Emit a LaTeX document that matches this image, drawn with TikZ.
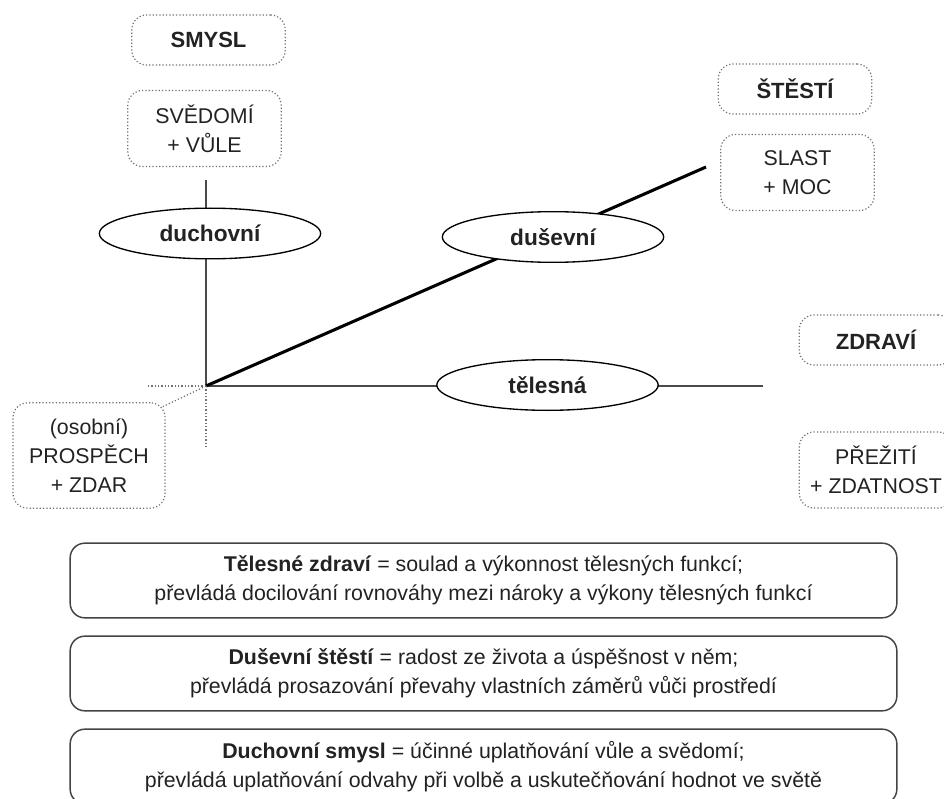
\documentclass[tikz,border=0pt]{standalone}
\usepackage{fontspec}
\setmainfont{Liberation Sans}
\usetikzlibrary{shapes.geometric,calc}
\definecolor{ink}{HTML}{222222}
\definecolor{axisgray}{HTML}{4A4A4A}
\definecolor{dotgray}{HTML}{707070}
\definecolor{framegray}{HTML}{444444}

\begin{document}
\begin{tikzpicture}[x=0.75pt,y=-0.75pt,
  every node/.style={font=\fontsize{16}{22}\selectfont, text=ink},
  tag/.style={draw=dotgray, line width=0.9pt, dash pattern=on 0.9pt off 1.6pt,
    rounded corners=11pt, align=center, inner sep=0pt, minimum width=115pt},
  head/.style={tag, font=\fontsize{16.5}{22}\selectfont\bfseries, minimum height=37.5pt},
  pair/.style={tag, minimum height=57pt},
  dimension/.style={ellipse, draw=black, line width=1pt, fill=white, inner sep=0pt,
    minimum width=166pt, minimum height=38pt, font=\fontsize{17}{20}\selectfont\bfseries},
  thinaxis/.style={draw=axisgray, line width=1.1pt},
  mainaxis/.style={draw=black, line width=2.3pt},
  guide/.style={draw=dotgray, line width=0.9pt, dash pattern=on 0.9pt off 1.6pt},
  defbox/.style={draw=framegray, line width=1.1pt, rounded corners=11pt, align=center,
    inner sep=0pt, minimum width=620pt, minimum height=56pt}
]
\useasboundingbox (0,0) rectangle (944,798);

% origin of the three axes and their free ends
\coordinate (o) at (206,386);
\coordinate (vtop) at (206,180);
\coordinate (dtop) at (706,167);
\coordinate (hend) at (763,386);
\coordinate (gleft) at (147,386);
\coordinate (gdown) at (206,447);

% axes
\draw[thinaxis] (o) -- (vtop);
\draw[thinaxis] (o) -- (hend);
\draw[mainaxis] (o) -- (dtop);

% dimensions on the axes
\node[dimension] (duch) at (210,233.5) {duchovní};
\node[dimension] (dus)  at (553,237) {duševní};
\node[dimension] (tel)  at (547.5,385) {tělesná};

% goals and their means
\node[head] (smysl) at (208.5,40) {SMYSL};
\node[pair] (svedomi) at (204.5,128.5) {SVĚDOMÍ\\+ VŮLE};
\node[head] (stesti) at (795,89) {ŠTĚSTÍ};
\node[pair] (slast) at (797.5,172.5) {SLAST\\+ MOC};
\node[head] (zdravi) at (876,340) {ZDRAVÍ};
\node[pair] (preziti) at (876,470) {PŘEŽITÍ\\+ ZDATNOST};
\node[tag, minimum height=79pt, minimum width=114pt] (prospech) at (89,455.5)
  {(osobní)\\PROSPĚCH\\+ ZDAR};

% dotted guides at the origin
\draw[guide] (o) -- (gleft);
\draw[guide] (o) -- (gdown);
\draw[guide] (o) -- ($(prospech.north east)+(-4,5)$);

% definitions
\node[defbox] (d1) at (483.5,580.5)
  {\textbf{Tělesné zdraví} = soulad a výkonnost tělesných funkcí;\\
   převládá docilování rovnováhy mezi nároky a výkony tělesných funkcí};
\node[defbox] (d2) at (483.5,673.5)
  {\textbf{Duševní štěstí} = radost ze života a úspěšnost v něm;\\
   převládá prosazování převahy vlastních záměrů vůči prostředí};
\node[defbox] (d3) at (483.5,766.5)
  {\textbf{Duchovní smysl} = účinné uplatňování vůle a svědomí;\\
   převládá uplatňování odvahy při volbě a uskutečňování hodnot ve světě};
\end{tikzpicture}
\end{document}
